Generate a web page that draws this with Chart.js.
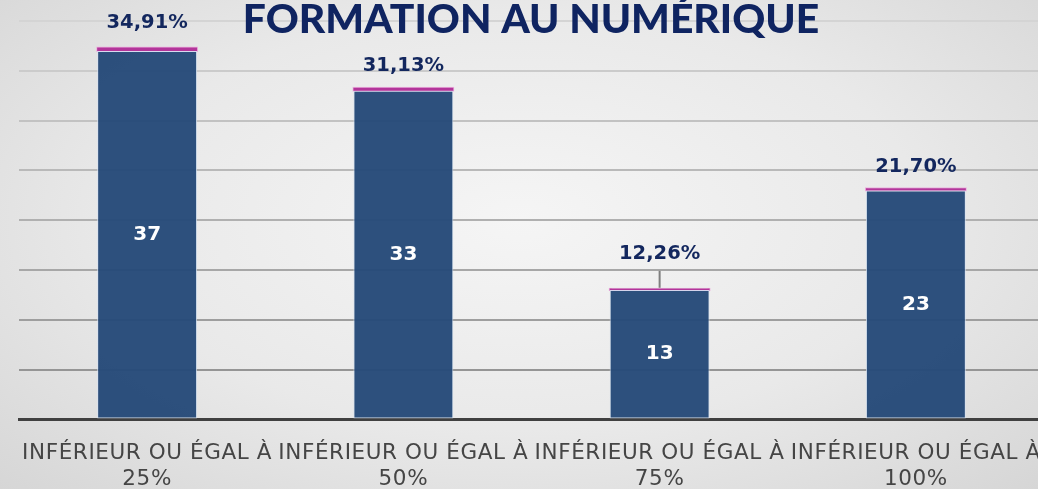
<!DOCTYPE html>
<html>
<head>
    <meta charset="utf-8">
    <title>Formation au numérique</title>
    <script src="https://cdn.jsdelivr.net/npm/chart.js"></script>
    <style>
        html, body {
            margin: 0;
            padding: 0;
            overflow: hidden;
        }
        body {
            width: 1038px;
            height: 489px;
            background: radial-gradient(ellipse at 50% 45%, #f5f5f5 0%, #e9e9e9 55%, #d6d6d6 100%);
        }
        .wrap {
            position: relative;
            width: 1038px;
            height: 489px;
            overflow: hidden;
        }
        .chart-box {
            position: absolute;
            left: 0;
            top: 0;
            width: 1044px;
            height: 492px;
        }
    </style>
</head>
<body>

<div class="wrap">
    <div class="chart-box">
        <canvas id="formationChart"></canvas>
    </div>
</div>

<script>
    // Data
    var chartTitle = 'FORMATION AU NUMÉRIQUE';
    var categories = [
        ['INFÉRIEUR OU ÉGAL À', '25%'],
        ['INFÉRIEUR OU ÉGAL À', '50%'],
        ['INFÉRIEUR OU ÉGAL À', '75%'],
        ['INFÉRIEUR OU ÉGAL À', '100%']
    ];
    var counts = [37, 33, 13, 23];
    var percents = [34.91, 31.13, 12.26, 21.70];
    var yMax = 40;
    var yStep = 5;

    function fmtPercent(p) {
        return p.toFixed(2).replace('.', ',') + '%';
    }

    // labels on the bars + the title drawn over the plot
    var barLabels = {
        id: 'barLabels',
        beforeDraw: function (chart) {
            // a little extra spacing for the category labels
            chart.ctx.letterSpacing = '0.6px';
        },
        afterDatasetsDraw: function (chart, args, opts) {
            var ctx = chart.ctx;
            ctx.letterSpacing = '0px';
            var base = chart.getDatasetMeta(0).data;
            var tops = chart.getDatasetMeta(1).data;
            ctx.save();
            ctx.textAlign = 'center';
            ctx.textBaseline = 'middle';

            // counts inside the blue bars
            ctx.font = 'bold 20px "DejaVu Sans"';
            ctx.fillStyle = '#ffffff';
            base.forEach(function (bar, i) {
                ctx.fillText(String(counts[i]), bar.x, (bar.y + bar.base) / 2);
            });

            // percentages above the bars
            ctx.font = 'bold 19.5px "DejaVu Sans"';
            ctx.fillStyle = '#13275e';
            tops.forEach(function (bar, i) {
                var top = bar.y - 1;
                var ly = top - opts.offsets[i];
                ctx.fillText(fmtPercent(percents[i]), bar.x, ly);
                if (opts.leader[i]) {
                    ctx.strokeStyle = '#7f7f7f';
                    ctx.lineWidth = 2;
                    ctx.beginPath();
                    ctx.moveTo(bar.x, ly + 17);
                    ctx.lineTo(bar.x, top);
                    ctx.stroke();
                }
            });
            ctx.restore();
        },
        afterDraw: function (chart, args, opts) {
            var ctx = chart.ctx;
            ctx.save();
            var size = 40;
            ctx.font = '900 ' + size + 'px Lato';
            var w = ctx.measureText(chartTitle).width;
            size = size * opts.titleWidth / w;
            ctx.font = '900 ' + size.toFixed(1) + 'px Lato';
            ctx.fillStyle = '#0f2461';
            ctx.textAlign = 'center';
            ctx.textBaseline = 'alphabetic';
            ctx.fillText(chartTitle, opts.titleX, opts.titleBaseline);
            ctx.restore();
        }
    };

    var gridColor = function (c) {
        var v = c.tick ? c.tick.value : 0;
        if (v === 0) return 'rgba(0,0,0,0)';
        // lighter lines at the top, darker at the bottom
        var t = v / yMax;
        var g = Math.round(140 + t * 72);
        return 'rgb(' + g + ',' + g + ',' + g + ')';
    };

    var ctx = document.getElementById('formationChart').getContext('2d');
    var formationChart = new Chart(ctx, {
        type: 'bar',
        data: {
            labels: categories,
            datasets: [
                {
                    label: 'Effectif',
                    data: counts,
                    backgroundColor: 'rgba(38, 74, 121, 0.97)',
                    borderColor: 'rgba(214, 226, 242, 0.85)',
                    borderWidth: 1,
                    borderSkipped: false
                },
                {
                    label: 'Pourcentage',
                    data: percents.map(function (p) { return p / 100; }),
                    backgroundColor: '#b3359a',
                    borderColor: '#eab0dd',
                    borderWidth: 1,
                    borderSkipped: false,
                    inflateAmount: 1
                }
            ]
        },
        options: {
            responsive: true,
            maintainAspectRatio: false,
            animation: false,
            layout: {
                padding: { left: 19, right: 0, top: 21, bottom: -22 }
            },
            datasets: {
                bar: {
                    categoryPercentage: 1,
                    barPercentage: 0.39
                }
            },
            plugins: {
                legend: { display: false },
                tooltip: { enabled: false },
                title: { display: false },
                barLabels: {
                    offsets: [23, 21, 34, 20],
                    leader: [false, false, true, false],
                    titleX: 531,
                    titleBaseline: 33,
                    titleWidth: 577
                }
            },
            scales: {
                x: {
                    stacked: true,
                    grid: { display: false, drawTicks: false },
                    border: { display: true, color: '#404040', width: 3 },
                    ticks: {
                        color: '#454545',
                        padding: 21,
                        maxRotation: 0,
                        autoSkip: false,
                        font: { family: '"DejaVu Sans"', size: 21.5, lineHeight: 1.22 }
                    },
                    // the outer labels may run past the edges, as in the original
                    afterFit: function (scale) {
                        scale.paddingLeft = 0;
                        scale.paddingRight = 0;
                    }
                },
                y: {
                    stacked: true,
                    min: 0,
                    max: yMax,
                    ticks: { display: false, stepSize: yStep },
                    border: { display: false },
                    grid: {
                        drawTicks: false,
                        color: gridColor,
                        lineWidth: 2
                    }
                }
            }
        },
        plugins: [barLabels]
    });
</script>

</body>
</html>
